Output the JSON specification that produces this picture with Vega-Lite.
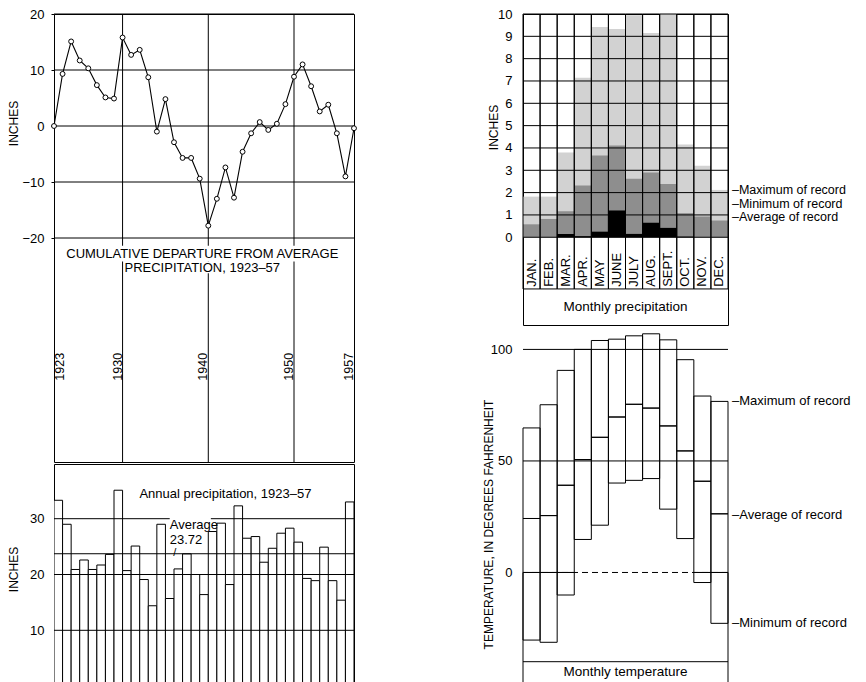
{
 "$schema": "https://vega.github.io/schema/vega-lite/v6.json",
 "padding": {"left": 6, "top": 7, "right": 0, "bottom": 0},
 "background": "white",
 "spacing": 123,
 "config": {
  "view": {"stroke": "black", "strokeWidth": 1},
  "mark": {"color": "black"},
  "axis": {"labelFont": "Liberation Sans", "labelFontSize": 13, "labelColor": "black", "titleFont": "Liberation Sans", "titleFontSize": 12, "titleFontWeight": "normal", "titleColor": "black", "domain": false, "grid": false, "ticks": false, "labelPadding": 10, "labelOverlap": false},
  "text": {"font": "Liberation Sans", "fontSize": 13, "color": "black"}
 },
 "datasets": {
  "one": [{}],
  "cum": [
   {"yr":1922,"dep":0},{"yr":1923,"dep":9.3},{"yr":1924,"dep":15.1},{"yr":1925,"dep":11.7},{"yr":1926,"dep":10.3},{"yr":1927,"dep":7.3},{"yr":1928,"dep":5.1},{"yr":1929,"dep":4.9},{"yr":1930,"dep":15.8},{"yr":1931,"dep":12.7},{"yr":1932,"dep":13.6},{"yr":1933,"dep":8.7},{"yr":1934,"dep":-1.0},{"yr":1935,"dep":4.8},{"yr":1936,"dep":-2.9},{"yr":1937,"dep":-5.7},{"yr":1938,"dep":-5.7},{"yr":1939,"dep":-9.4},{"yr":1940,"dep":-17.8},{"yr":1941,"dep":-13.0},{"yr":1942,"dep":-7.4},{"yr":1943,"dep":-12.8},{"yr":1944,"dep":-4.6},{"yr":1945,"dep":-1.3},{"yr":1946,"dep":0.7},{"yr":1947,"dep":-0.7},{"yr":1948,"dep":0.4},{"yr":1949,"dep":3.9},{"yr":1950,"dep":8.8},{"yr":1951,"dep":11.0},{"yr":1952,"dep":7.1},{"yr":1953,"dep":2.6},{"yr":1954,"dep":3.8},{"yr":1955,"dep":-1.3},{"yr":1956,"dep":-9.0},{"yr":1957,"dep":-0.4}
  ],
  "annual": [
   {"year":1923,"precip":33.3},{"year":1924,"precip":29.0},{"year":1925,"precip":20.9},{"year":1926,"precip":22.6},{"year":1927,"precip":20.9},{"year":1928,"precip":21.7},{"year":1929,"precip":23.6},{"year":1930,"precip":35.1},{"year":1931,"precip":20.7},{"year":1932,"precip":25.1},{"year":1933,"precip":19.1},{"year":1934,"precip":14.4},{"year":1935,"precip":29.0},{"year":1936,"precip":15.7},{"year":1937,"precip":21.0},{"year":1938,"precip":23.7},{"year":1939,"precip":20.0},{"year":1940,"precip":16.4},{"year":1941,"precip":27.7},{"year":1942,"precip":29.2},{"year":1943,"precip":18.2},{"year":1944,"precip":32.3},{"year":1945,"precip":26.5},{"year":1946,"precip":26.8},{"year":1947,"precip":22.2},{"year":1948,"precip":24.7},{"year":1949,"precip":27.4},{"year":1950,"precip":28.3},{"year":1951,"precip":25.8},{"year":1952,"precip":19.3},{"year":1953,"precip":18.9},{"year":1954,"precip":24.9},{"year":1955,"precip":18.9},{"year":1956,"precip":15.4},{"year":1957,"precip":33.0}
  ],
  "monthly": [
   {"month":"JAN.","pmax":1.82,"pavg":0.58,"pmin":0,"tmax":64.8,"tavg":24.2,"tmin":-30.3},
   {"month":"FEB.","pmax":1.82,"pavg":0.82,"pmin":0,"tmax":75.2,"tavg":25.5,"tmin":-31.3},
   {"month":"MAR.","pmax":3.8,"pavg":1.17,"pmin":0.15,"tmax":90.6,"tavg":39.1,"tmin":-10.1},
   {"month":"APR.","pmax":7.15,"pavg":2.32,"pmin":0.05,"tmax":100,"tavg":50.6,"tmin":14.8},
   {"month":"MAY","pmax":9.42,"pavg":3.66,"pmin":0.25,"tmax":104,"tavg":60.6,"tmin":21.2},
   {"month":"JUNE","pmax":9.33,"pavg":4.11,"pmin":1.2,"tmax":104.6,"tavg":69.7,"tmin":40.1},
   {"month":"JULY","pmax":9.94,"pavg":2.62,"pmin":0.15,"tmax":106.1,"tavg":75.4,"tmin":41.3},
   {"month":"AUG.","pmax":9.15,"pavg":2.9,"pmin":0.65,"tmax":107,"tavg":73.7,"tmin":42.1},
   {"month":"SEPT.","pmax":10.0,"pavg":2.39,"pmin":0.42,"tmax":104.3,"tavg":65.7,"tmin":28.4},
   {"month":"OCT.","pmax":4.16,"pavg":1.08,"pmin":0.03,"tmax":95.4,"tavg":54.5,"tmin":15.2},
   {"month":"NOV.","pmax":3.2,"pavg":0.93,"pmin":0,"tmax":79.1,"tavg":40.9,"tmin":-4.5},
   {"month":"DEC.","pmax":2.12,"pavg":0.75,"pmin":0,"tmax":76.7,"tavg":26.3,"tmin":-22.8}
  ]
 },
 "hconcat": [
  {
   "spacing": 0,
   "vconcat": [
    {
     "width": 300, "height": 448,
     "layer": [
      {"data": {"values": [{"v":20},{"v":10},{"v":0},{"v":-10},{"v":-20}]},
       "mark": {"type": "rule", "strokeWidth": 1},
       "encoding": {"y": {"field": "v", "type": "quantitative", "scale": {"domain": [-60, 20], "nice": false, "zero": false},
         "axis": {"values": [20, 10, 0, -10, -20], "format": "d", "tickCount": 20, "title": "INCHES", "titleX": -34, "titleY": 109, "ticks": true, "tickSize": 3, "tickColor": "black", "labelPadding": 7, "labelOverlap": false}}}},
      {"data": {"values": [{"v":1930},{"v":1940},{"v":1950}]},
       "mark": {"type": "rule", "strokeWidth": 1},
       "encoding": {"x": {"field": "v", "type": "quantitative", "scale": {"domain": [1922, 1957], "nice": false, "zero": false}, "axis": null}}},
      {"data": {"name": "one"},
       "mark": {"type": "rect", "fill": "white"},
       "encoding": {"x": {"datum": 1923.2}, "x2": {"datum": 1955.4}, "y": {"datum": -21.4}, "y2": {"datum": -24.2}}},
      {"data": {"name": "one"},
       "mark": {"type": "rect", "fill": "white"},
       "encoding": {"x": {"datum": 1930.3}, "x2": {"datum": 1948.3}, "y": {"datum": -24.2}, "y2": {"datum": -26.3}}},
      {"data": {"name": "one"},
       "mark": {"type": "text", "text": "CUMULATIVE DEPARTURE FROM AVERAGE", "fontSize": 13, "align": "center", "baseline": "middle"},
       "encoding": {"x": {"datum": 1939.3}, "y": {"datum": -22.9}}},
      {"data": {"name": "one"},
       "mark": {"type": "text", "text": "PRECIPITATION, 1923–57", "fontSize": 13, "align": "center", "baseline": "middle"},
       "encoding": {"x": {"datum": 1939.3}, "y": {"datum": -25.4}}},
      {"data": {"name": "cum"},
       "mark": {"type": "line", "strokeWidth": 1.1, "color": "black"},
       "encoding": {"x": {"field": "yr", "type": "quantitative"}, "y": {"field": "dep", "type": "quantitative"}}},
      {"data": {"name": "cum"},
       "mark": {"type": "point", "filled": true, "fill": "white", "stroke": "black", "strokeWidth": 1, "size": 24, "opacity": 1},
       "encoding": {"x": {"field": "yr", "type": "quantitative"}, "y": {"field": "dep", "type": "quantitative"}}},
      {"data": {"name": "one"},
       "mark": {"type": "text", "text": "1923", "angle": 270, "align": "center", "baseline": "top", "fontSize": 12.5},
       "encoding": {"x": {"datum": 1922}, "y": {"datum": -43}}},
      {"data": {"values": [{"label":"1930","v":1930},{"label":"1940","v":1940},{"label":"1950","v":1950},{"label":"1957","v":1957}]},
       "mark": {"type": "text", "angle": 270, "align": "center", "baseline": "bottom", "fontSize": 12.5, "dy": 2},
       "encoding": {"x": {"field": "v", "type": "quantitative"}, "y": {"datum": -43}, "text": {"field": "label"}}}
     ]
    },
    {
     "width": 300, "height": 220,
     "layer": [
      {"data": {"name": "annual"},
       "mark": {"type": "bar", "fill": "white", "stroke": "black", "strokeWidth": 1, "clip": true},
       "encoding": {"x": {"field": "year", "type": "ordinal", "scale": {"paddingInner": 0, "paddingOuter": 0}, "axis": null},
        "y": {"field": "precip", "type": "quantitative", "scale": {"domain": [0.38, 39.8], "nice": false, "zero": false},
          "axis": {"values": [10, 20, 30], "format": "d", "tickCount": 20, "title": "INCHES", "titleX": -34, "titleY": 105, "labelOverlap": false}},
        "y2": {"datum": 0}}},
      {"data": {"values": [{"v":10},{"v":20},{"v":30},{"v":23.72}]},
       "mark": {"type": "rule", "strokeWidth": 1},
       "encoding": {"y": {"field": "v", "type": "quantitative"}}},
      {"data": {"name": "one"},
       "mark": {"type": "text", "text": "Annual precipitation, 1923–57", "fontSize": 13, "align": "center", "baseline": "middle"},
       "encoding": {"x": {"datum": 1942, "type": "ordinal", "bandPosition": 1}, "y": {"datum": 34.4}}},
      {"data": {"name": "one"},
       "mark": {"type": "rect", "fill": "white"},
       "encoding": {"x": {"datum": 1936, "type": "ordinal", "bandPosition": 0.5}, "x2": {"datum": 1941, "type": "ordinal", "bandPosition": 0.3}, "y": {"datum": 30.6}, "y2": {"datum": 27.8}}},
      {"data": {"name": "one"},
       "mark": {"type": "text", "text": "Average", "fontSize": 13, "align": "left", "baseline": "middle"},
       "encoding": {"x": {"datum": 1936, "type": "ordinal"}, "y": {"datum": 28.9}}},
      {"data": {"name": "one"},
       "mark": {"type": "text", "text": "23.72", "fontSize": 13, "align": "left", "baseline": "middle"},
       "encoding": {"x": {"datum": 1936, "type": "ordinal"}, "y": {"datum": 26.2}}},
      {"data": {"name": "one"},
       "mark": {"type": "text", "text": "/", "fontSize": 11, "align": "center", "baseline": "middle", "dx": 5},
       "encoding": {"x": {"datum": 1936, "type": "ordinal"}, "y": {"datum": 23.8}}}
     ]
    }
   ]
  },
  {
   "spacing": 0,
   "vconcat": [
    {
     "width": 205, "height": 311,
     "layer": [
      {"data": {"name": "monthly"},
       "mark": {"type": "bar", "fill": "#d2d2d2"},
       "encoding": {"x": {"field": "month", "type": "ordinal", "scale": {"domain": ["JAN.","FEB.","MAR.","APR.","MAY","JUNE","JULY","AUG.","SEPT.","OCT.","NOV.","DEC."], "paddingInner": 0, "paddingOuter": 0}, "axis": null},
        "y": {"field": "pmax", "type": "quantitative", "scale": {"domain": [-3.93, 10], "nice": false, "zero": false},
          "axis": {"values": [0,1,2,3,4,5,6,7,8,9,10], "format": "d", "tickCount": 30, "title": "INCHES", "titleX": -23, "titleY": 113, "labelPadding": 11, "labelOverlap": false}},
        "y2": {"datum": 0}}},
      {"data": {"name": "monthly"},
       "mark": {"type": "bar", "fill": "#8e8e8e"},
       "encoding": {"x": {"field": "month", "type": "ordinal"}, "y": {"field": "pavg", "type": "quantitative"}, "y2": {"datum": 0}}},
      {"data": {"name": "monthly"},
       "mark": {"type": "bar", "fill": "black"},
       "encoding": {"x": {"field": "month", "type": "ordinal"}, "y": {"field": "pmin", "type": "quantitative"}, "y2": {"datum": 0}}},
      {"data": {"values": [{"v":1},{"v":2},{"v":3},{"v":4},{"v":5},{"v":6},{"v":7},{"v":8},{"v":9},{"v":0}]},
       "mark": {"type": "rule", "strokeWidth": 1},
       "encoding": {"y": {"field": "v", "type": "quantitative"}}},
      {"data": {"name": "monthly"},
       "mark": {"type": "bar", "fillOpacity": 0, "stroke": "black", "strokeWidth": 1},
       "encoding": {"x": {"field": "month", "type": "ordinal"}, "y": {"datum": 10}, "y2": {"datum": -2.315}}},
      {"data": {"name": "monthly"},
       "mark": {"type": "text", "angle": 270, "align": "left", "baseline": "middle", "fontSize": 13},
       "encoding": {"x": {"field": "month", "type": "ordinal"}, "y": {"datum": -2.22}, "text": {"field": "month"}}},
      {"data": {"name": "one"},
       "mark": {"type": "text", "text": "Monthly precipitation", "fontSize": 13.5, "align": "center", "baseline": "middle"},
       "encoding": {"y": {"datum": -3.13}}},
      {"data": {"name": "one"},
       "mark": {"type": "text", "text": "–Maximum of record", "fontSize": 12.5, "align": "left", "baseline": "middle", "dx": 4},
       "encoding": {"x": {"datum": "DEC.", "type": "ordinal", "bandPosition": 1}, "y": {"datum": 2.1}}},
      {"data": {"name": "one"},
       "mark": {"type": "text", "text": "–Minimum of record", "fontSize": 12.5, "align": "left", "baseline": "middle", "dx": 4},
       "encoding": {"x": {"datum": "DEC.", "type": "ordinal", "bandPosition": 1}, "y": {"datum": 1.51}}},
      {"data": {"name": "one"},
       "mark": {"type": "text", "text": "–Average of record", "fontSize": 12.5, "align": "left", "baseline": "middle", "dx": 4},
       "encoding": {"x": {"datum": "DEC.", "type": "ordinal", "bandPosition": 1}, "y": {"datum": 0.9}}}
     ]
    },
    {
     "width": 205, "height": 356,
     "view": {"stroke": null},
     "layer": [
      {"data": {"values": [{"v":100},{"v":50},{"v":-40}]},
       "mark": {"type": "rule", "strokeWidth": 1},
       "encoding": {"y": {"field": "v", "type": "quantitative", "scale": {"domain": [-49.1, 110.5], "nice": false, "zero": false},
         "axis": {"values": [100, 50, 0], "format": "d", "tickCount": 20, "title": "TEMPERATURE, IN DEGREES FAHRENHEIT", "titleX": -27.5, "titleY": 198, "labelPadding": 11, "labelOverlap": false}}}},
      {"data": {"name": "one"},
       "mark": {"type": "rule", "strokeWidth": 1, "strokeDash": [6, 4]},
       "encoding": {"y": {"datum": 0}}},
      {"data": {"name": "monthly"},
       "mark": {"type": "bar", "fillOpacity": 0, "stroke": "black", "strokeWidth": 1},
       "encoding": {"x": {"field": "month", "type": "ordinal", "scale": {"domain": ["JAN.","FEB.","MAR.","APR.","MAY","JUNE","JULY","AUG.","SEPT.","OCT.","NOV.","DEC."], "paddingInner": 0, "paddingOuter": 0}, "axis": null},
        "y": {"field": "tmax", "type": "quantitative"}, "y2": {"field": "tmin"}}},
      {"data": {"name": "monthly"},
       "mark": {"type": "bar", "fillOpacity": 0, "stroke": "black", "strokeWidth": 1},
       "encoding": {"x": {"field": "month", "type": "ordinal"}, "y": {"field": "tavg", "type": "quantitative"}, "y2": {"field": "tavg"}}},
      {"data": {"name": "monthly"},
       "transform": [{"filter": "datum.tmin < 0"}],
       "mark": {"type": "bar", "fillOpacity": 0, "stroke": "black", "strokeWidth": 1},
       "encoding": {"x": {"field": "month", "type": "ordinal"}, "y": {"datum": 0}, "y2": {"datum": 0}}},
      {"data": {"name": "one"},
       "mark": {"type": "rule", "strokeWidth": 1},
       "encoding": {"x": {"datum": "JAN.", "type": "ordinal", "bandPosition": 0}, "y": {"datum": -49.1}, "y2": {"datum": 0}}},
      {"data": {"name": "one"},
       "mark": {"type": "rule", "strokeWidth": 1},
       "encoding": {"x": {"datum": "DEC.", "type": "ordinal", "bandPosition": 1}, "y": {"datum": -49.1}, "y2": {"datum": 0}}},
      {"data": {"name": "one"},
       "mark": {"type": "text", "text": "Monthly temperature", "fontSize": 13.5, "align": "center", "baseline": "middle"},
       "encoding": {"y": {"datum": -44.6}}},
      {"data": {"name": "one"},
       "mark": {"type": "text", "text": "–Maximum of record", "fontSize": 13, "align": "left", "baseline": "middle", "dx": 4},
       "encoding": {"x": {"datum": "DEC.", "type": "ordinal", "bandPosition": 1}, "y": {"datum": 76.7}}},
      {"data": {"name": "one"},
       "mark": {"type": "text", "text": "–Average of record", "fontSize": 13, "align": "left", "baseline": "middle", "dx": 4},
       "encoding": {"x": {"datum": "DEC.", "type": "ordinal", "bandPosition": 1}, "y": {"datum": 25.7}}},
      {"data": {"name": "one"},
       "mark": {"type": "text", "text": "–Minimum of record", "fontSize": 13, "align": "left", "baseline": "middle", "dx": 4},
       "encoding": {"x": {"datum": "DEC.", "type": "ordinal", "bandPosition": 1}, "y": {"datum": -22.8}}}
     ]
    }
   ]
  }
 ]
}
